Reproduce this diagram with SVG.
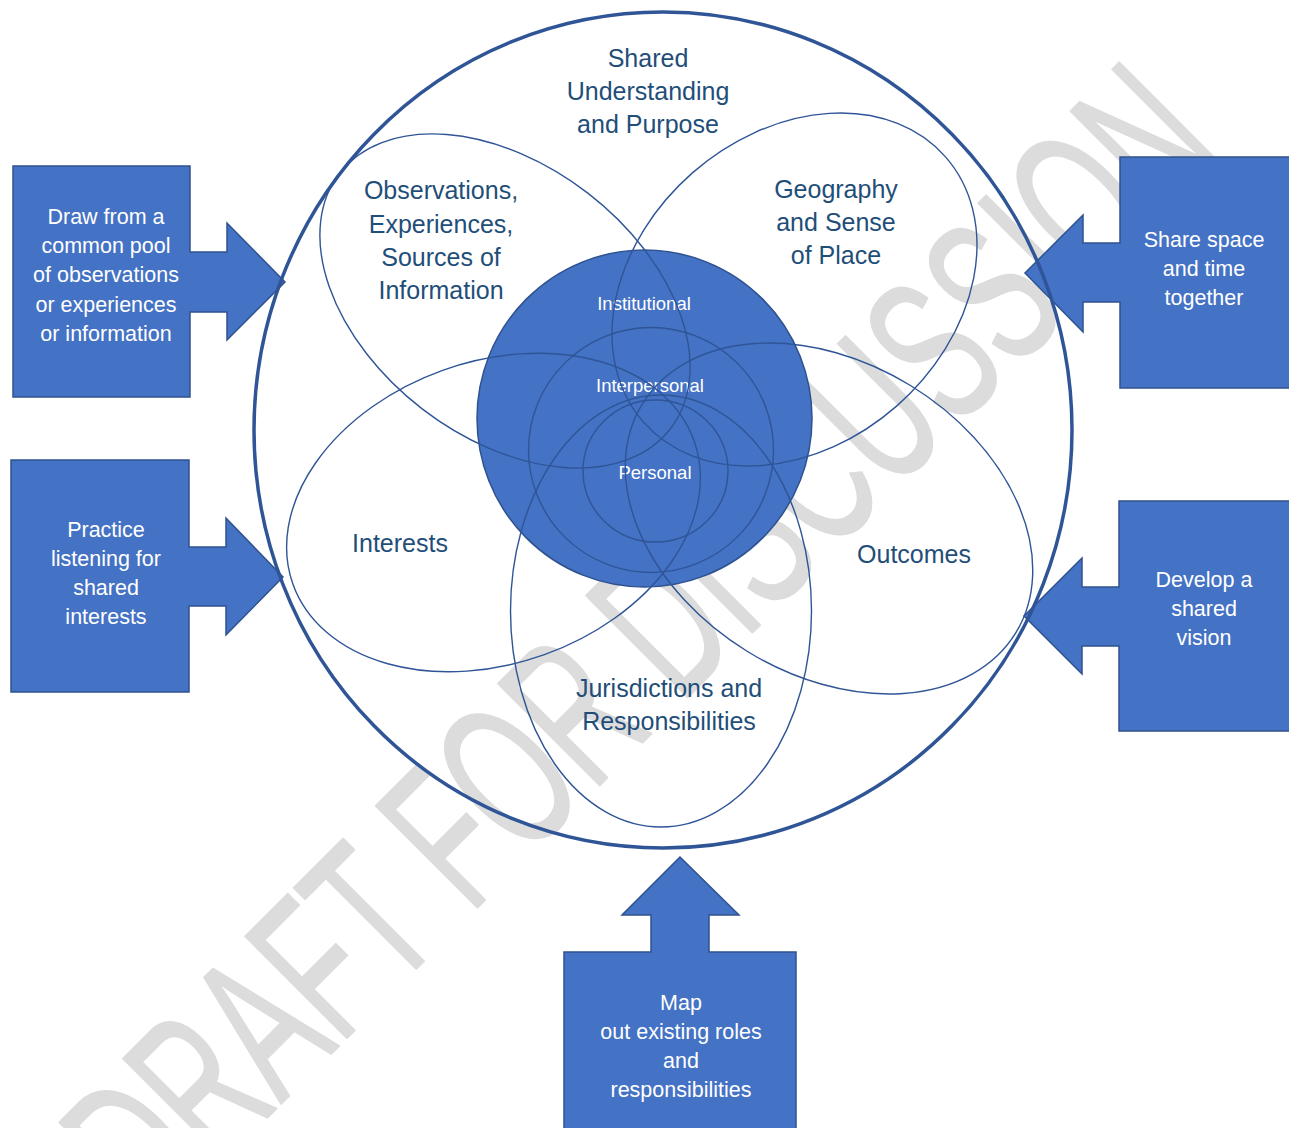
<svg xmlns="http://www.w3.org/2000/svg" width="1289" height="1128" viewBox="0 0 1289 1128">
  <style>
    .watermark { font-family: "Liberation Sans Narrow", "Liberation Sans", sans-serif; font-size: 209px; fill: #dcdcdc; stroke: #dcdcdc; stroke-width: 2; stroke-linejoin: round; }
    .callout { fill: #4472c4; stroke: #2f528f; stroke-width: 1.5; }
    .callout-text { font-family: "Liberation Sans", Arial, sans-serif; font-size: 21.5px; fill: #ffffff; text-anchor: middle; }
    .petal { fill: none; stroke: #2f5597; stroke-width: 1.4; }
    .outer { fill: none; stroke: #2f5597; stroke-width: 3.5; }
    .core { fill: #4472c4; stroke: #2f528f; stroke-width: 1.5; }
    .ring { fill: none; stroke: #2f5597; stroke-width: 1.4; }
    .label { font-family: "Liberation Sans", Arial, sans-serif; font-size: 25px; fill: #1f4e79; text-anchor: middle; }
    .core-label { font-family: "Liberation Sans", Arial, sans-serif; font-size: 18.5px; fill: #ffffff; text-anchor: middle; }
  </style>

  <rect width="1289" height="1128" fill="#ffffff"/>

  <!-- diagonal background watermark -->
  <text class="watermark" x="0" y="0" text-anchor="middle" textLength="1520" lengthAdjust="spacingAndGlyphs" transform="translate(691 694) rotate(-45)">DRAFT FOR DISCUSSION</text>

  <!-- callout boxes pointing at the outer ring -->
  <g id="callout-pool">
    <path class="callout" d="M13,166 H190 V252 H227 V223 L285,282 L227,340 V312 H190 V397 H13 Z"/>
    <text class="callout-text" x="106" y="224">Draw from a</text>
    <text class="callout-text" x="106" y="253">common pool</text>
    <text class="callout-text" x="106" y="282">of observations</text>
    <text class="callout-text" x="106" y="312">or experiences</text>
    <text class="callout-text" x="106" y="341">or information</text>
  </g>
  <g id="callout-listening">
    <path class="callout" d="M11,460 H189 V547 H226 V518 L283,577 L226,635 V606 H189 V692 H11 Z"/>
    <text class="callout-text" x="106" y="537">Practice</text>
    <text class="callout-text" x="106" y="566">listening for</text>
    <text class="callout-text" x="106" y="595">shared</text>
    <text class="callout-text" x="106" y="624">interests</text>
  </g>
  <g id="callout-space">
    <path class="callout" d="M1120,157 H1291 V388 H1120 V302 H1083 V332 L1025,273 L1083,215 V243 H1120 Z"/>
    <text class="callout-text" x="1204" y="247">Share space</text>
    <text class="callout-text" x="1204" y="276">and time</text>
    <text class="callout-text" x="1204" y="305">together</text>
  </g>
  <g id="callout-vision">
    <path class="callout" d="M1119,501 H1291 V731 H1119 V646 H1082 V674 L1024,616 L1082,558 V587 H1119 Z"/>
    <text class="callout-text" x="1204" y="587">Develop a</text>
    <text class="callout-text" x="1204" y="616">shared</text>
    <text class="callout-text" x="1204" y="645">vision</text>
  </g>
  <g id="callout-roles">
    <path class="callout" d="M564,952 H651 V915 H622 L680,857 L739,915 H709 V952 H796 V1131 H564 Z"/>
    <text class="callout-text" x="681" y="1010">Map</text>
    <text class="callout-text" x="681" y="1039">out existing roles</text>
    <text class="callout-text" x="681" y="1068">and</text>
    <text class="callout-text" x="681" y="1097">responsibilities</text>
  </g>

  <!-- outer ring: shared understanding -->
  <g id="shared-understanding">
    <ellipse class="outer" cx="663" cy="430" rx="409" ry="418"/>
    <text class="label" x="648" y="67">Shared</text>
    <text class="label" x="648" y="100">Understanding</text>
    <text class="label" x="648" y="133">and Purpose</text>
  </g>

  <!-- central levels -->
  <g id="core">
    <ellipse class="core" cx="644.5" cy="418.5" rx="167.5" ry="168.5"/>
    <circle class="ring" cx="651" cy="450" r="122.5"/>
    <ellipse class="ring" cx="655.5" cy="471" rx="72.5" ry="71"/>
    <text class="core-label" x="644" y="310">Institutional</text>
    <text class="core-label" x="650" y="392">Interpersonal</text>
    <text class="core-label" x="655" y="479">Personal</text>
  </g>

  <!-- petals -->
  <g id="observations">
    <ellipse class="petal" cx="505" cy="301" rx="209" ry="136" transform="rotate(37.7 505 301)"/>
    <text class="label" x="441" y="199">Observations,</text>
    <text class="label" x="441" y="233">Experiences,</text>
    <text class="label" x="441" y="266">Sources of</text>
    <text class="label" x="441" y="299">Information</text>
  </g>
  <g id="geography">
    <ellipse class="petal" cx="794.5" cy="289.5" rx="201" ry="155" transform="rotate(-41.2 794.5 289.5)"/>
    <text class="label" x="836" y="198">Geography</text>
    <text class="label" x="836" y="231">and Sense</text>
    <text class="label" x="836" y="264">of Place</text>
  </g>
  <g id="interests">
    <ellipse class="petal" cx="493.5" cy="512.5" rx="213" ry="151" transform="rotate(-19.7 493.5 512.5)"/>
    <text class="label" x="400" y="552">Interests</text>
  </g>
  <g id="outcomes">
    <ellipse class="petal" cx="829" cy="518.5" rx="219" ry="156" transform="rotate(31.5 829 518.5)"/>
    <text class="label" x="914" y="563">Outcomes</text>
  </g>
  <g id="jurisdictions">
    <ellipse class="petal" cx="661" cy="611" rx="150.5" ry="216"/>
    <text class="label" x="669" y="697">Jurisdictions and</text>
    <text class="label" x="669" y="730">Responsibilities</text>
  </g>

  <g id="connectors"></g>
</svg>
